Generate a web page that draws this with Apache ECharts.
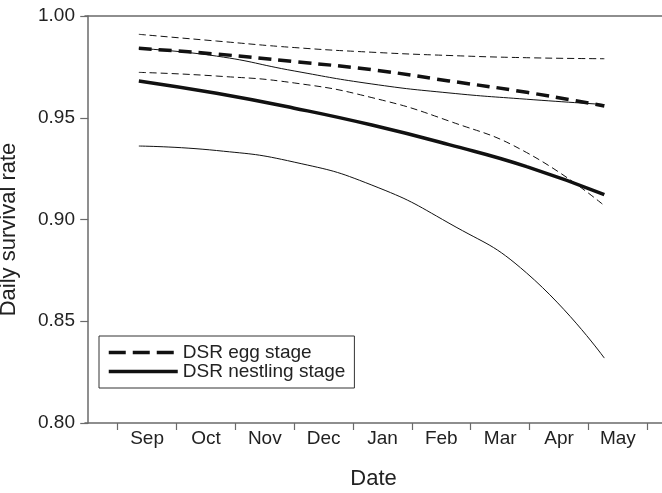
<!DOCTYPE html>
<html>
<head>
<meta charset="utf-8">
<script src="https://cdn.jsdelivr.net/npm/echarts@6/dist/echarts.min.js"></script>
<style>html,body{margin:0;padding:0;background:#fff}#c{width:662px;height:493px}</style>
</head>
<body>
<div id="c"></div>
<script>
const months = ['Sep','Oct','Nov','Dec','Jan','Feb','Mar','Apr','May'];
const monthPos = [1,2,3,4,5,6,7,8,9];
const tickPos = [0.5,1.5,2.5,3.5,4.5,5.5,6.5,7.5,8.5,9.5];
const yTicks = [0.80,0.85,0.90,0.95,1.00];
const dates = [0.86, 2.18, 3.50, 4.82, 6.13, 7.45, 8.77];
const eggMean   = [0.9841, 0.9813, 0.9776, 0.9736, 0.9681, 0.9625, 0.9558];
const eggUpper  = [0.9910, 0.9877, 0.9845, 0.9822, 0.9806, 0.9795, 0.9790];
const eggLower  = [0.9723, 0.9705, 0.9671, 0.9599, 0.9484, 0.9329, 0.9068];
const nestMean  = [0.9681, 0.9620, 0.9547, 0.9464, 0.9368, 0.9260, 0.9122];
const nestUpper = [0.9841, 0.9803, 0.9730, 0.9666, 0.9622, 0.9591, 0.9565];
const nestLower = [0.9361, 0.9339, 0.9282, 0.9169, 0.8982, 0.8737, 0.8319];

const FONT = "'Liberation Sans', Arial, Helvetica, sans-serif";
const pair = arr => dates.map((d,i)=>[d, arr[i]]);
const axisCol = '#6a6a6a';
const ink = '#111';

function mk(name, arr, width, type) {
  return {
    name: name, type: 'line', data: pair(arr), smooth: 0.5,
    symbol: 'none', silent: true,
    lineStyle: {color: ink, width: width, type: type},
    itemStyle: {color: ink}
  };
}

const chart = echarts.init(document.getElementById('c'), null, {renderer: 'canvas'});
chart.setOption({
  animation: false,
  backgroundColor: '#fff',
  textStyle: {fontFamily: FONT},
  grid: {left: 85, right: 0, top: 16, bottom: 70, outerBoundsMode: 'none', containLabel: false},
  legend: {
    data: [
      {name: 'DSR egg stage', lineStyle: {width: 3.5, type: [17, 7], color: ink}},
      {name: 'DSR nestling stage', lineStyle: {width: 3.5, type: 'solid', color: ink}}
    ],
    orient: 'vertical', left: 99, top: 336,
    padding: [7, 9, 7, 8], itemGap: 0, itemWidth: 69, itemHeight: 19,
    itemStyle: {opacity: 0},
    borderColor: '#333', borderWidth: 1,
    textStyle: {fontFamily: FONT, fontSize: 19, color: '#222'}
  },
  xAxis: [{
    type: 'value', min: -0.055, max: 9.75, position: 'bottom',
    name: 'Date', nameLocation: 'middle', nameGap: 45,
    nameTextStyle: {fontFamily: FONT, fontSize: 22, color: '#222'},
    axisLine: {show: true, lineStyle: {color: axisCol, width: 1.5}},
    axisTick: {show: true, length: 7, lineStyle: {color: axisCol, width: 1.2}, customValues: tickPos},
    axisLabel: {fontFamily: FONT, fontSize: 19, color: '#222', margin: 6,
      customValues: monthPos,
      formatter: v => months[monthPos.indexOf(Math.round(v))] || ''},
    splitLine: {show: false}
  }, {
    type: 'value', min: -0.055, max: 9.75, position: 'top',
    axisLine: {show: true, onZero: false, lineStyle: {color: axisCol, width: 1.5}},
    axisTick: {show: false}, axisLabel: {show: false}, splitLine: {show: false}
  }],
  yAxis: {
    type: 'value', min: 0.8, max: 1.0, interval: 0.05,
    name: 'Daily survival rate', nameLocation: 'middle', nameGap: 65,
    nameTextStyle: {fontFamily: FONT, fontSize: 22, color: '#222', padding: [0, 20, 0, 0]},
    axisLine: {show: true, lineStyle: {color: axisCol, width: 1.5}},
    axisTick: {show: true, length: 8, lineStyle: {color: axisCol, width: 1.2}},
    axisLabel: {fontFamily: FONT, fontSize: 19, color: '#222', margin: 10,
      formatter: v => { const t = yTicks.find(k => Math.abs(k - v) < 1e-6); return t !== undefined ? t.toFixed(2) : ''; }},
    splitLine: {show: false}
  },
  series: [
    mk('DSR egg stage', eggMean, 3.5, [13, 7]),
    mk('DSR nestling stage', nestMean, 3.5, 'solid'),
    mk('egg upper', eggUpper, 1, [7, 4]),
    mk('egg lower', eggLower, 1, [7, 4]),
    mk('nestling upper', nestUpper, 1, 'solid'),
    mk('nestling lower', nestLower, 1, 'solid')
  ]
});
</script>
</body>
</html>
